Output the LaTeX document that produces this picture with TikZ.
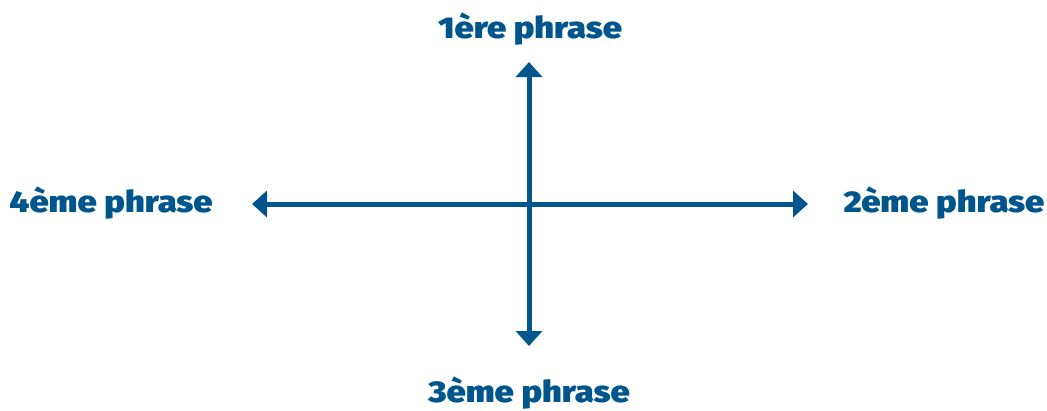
\documentclass[tikz,border=0pt]{standalone}
\usepackage{fontspec}
\IfFontExistsTF{Fira Sans Black}
  {\newfontfamily\heavy{Fira Sans Black}[FakeStretch=1.15]}
  {\newfontfamily\heavy{Fira Sans Bold}[FakeBold=2,FakeStretch=1.15]}
\usetikzlibrary{arrows.meta}
\definecolor{bleu}{RGB}{0,86,140}
\begin{document}
\begin{tikzpicture}[x=1pt,y=-1pt,
  axe/.style={draw=bleu,line width=5pt,{Triangle[width=26pt,length=15pt]}-{Triangle[width=26pt,length=15pt]}},
  lab/.style={text=bleu,font=\fontsize{30}{33}\heavy,inner sep=0pt}]
\useasboundingbox (0,0) rectangle (1047,410);
\coordinate (top) at (529,62);
\coordinate (bot) at (529,346);
\coordinate (left) at (252,204);
\coordinate (right) at (808,204);
\draw[axe] (top) -- (bot);
\draw[axe] (left) -- (right);
\node[lab] (t1) at (530,29) {1ère phrase};
\node[lab] (t2) at (944,203) {2ème phrase};
\node[lab] (t3) at (529,393) {3ème phrase};
\node[lab] (t4) at (111,203) {4ème phrase};
\end{tikzpicture}
\end{document}
